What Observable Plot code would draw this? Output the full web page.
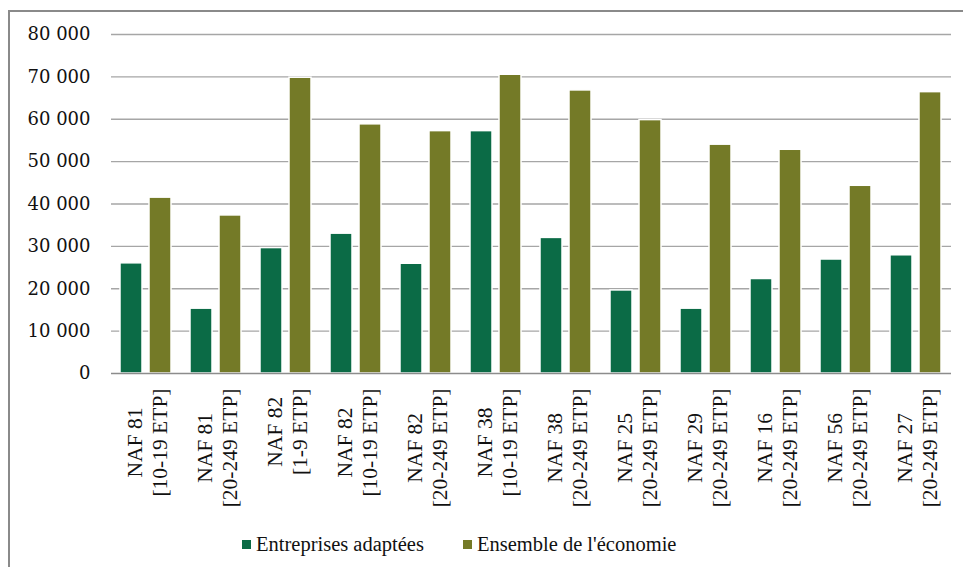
<!DOCTYPE html>
<html><head><meta charset="utf-8">
<script src="https://cdn.jsdelivr.net/npm/d3@7"></script>
<script src="https://cdn.jsdelivr.net/npm/@observablehq/plot@0.6"></script>
<style>
body{margin:0;background:#fff;}
#wrap{position:relative;width:963px;height:567px;overflow:hidden;background:#fff;}
#frame{position:absolute;left:8px;top:10px;width:1000px;height:600px;border:2px solid #8a8a8a;box-sizing:border-box;}
#chart{position:absolute;left:0;top:0;}
#legend{position:absolute;left:242px;top:528px;}
.lg-swatch{margin-right:39px !important;}
.lg-swatch > svg{margin-right:5px !important;}
</style></head>
<body><div id="wrap"><div id="frame"></div><div id="chart"></div><div id="legend"></div></div>
<script>
const naf = ["NAF 81","NAF 81","NAF 82","NAF 82","NAF 82","NAF 38","NAF 38","NAF 25","NAF 29","NAF 16","NAF 56","NAF 27"];
const tranches = ["[10-19 ETP]","[20-249 ETP]","[1-9 ETP]","[10-19 ETP]","[20-249 ETP]","[10-19 ETP]","[20-249 ETP]","[20-249 ETP]","[20-249 ETP]","[20-249 ETP]","[20-249 ETP]","[20-249 ETP]"];
const series = ["Entreprises adaptées","Ensemble de l'économie"];
const entreprisesAdaptees = [26000,15300,29600,33000,25900,57200,32000,19600,15300,22300,26900,27900];
const ensembleEconomie = [41500,37300,69800,58800,57200,70500,66800,59800,54000,52800,44300,66400];
const yTicks = [0,10000,20000,30000,40000,50000,60000,70000,80000];
const colors = ["#0b6b46","#747a27"];

const categories = naf.map((n,i)=> n + "\n" + tranches[i]);
const data = categories.flatMap((c,i)=>[
  {cat:c, serie:series[0], value:entreprisesAdaptees[i]},
  {cat:c, serie:series[1], value:ensembleEconomie[i]}
]);

const fmt = d3.formatLocale({decimal:",", thousands:"\u00a0", grouping:[3], currency:["",""]}).format(",.0f");

const labelFont = "21.5px 'Liberation Serif'";
const ctx = document.createElement("canvas").getContext("2d");
ctx.font = labelFont;
const halfW = categories.map(c => d3.max(c.split("\n"), l => ctx.measureText(l).width)/2);

const plot = Plot.plot({
  width:963, height:515,
  marginTop:34, marginBottom:142, marginLeft:108, marginRight:10,
  style:{fontFamily:"'DejaVu Serif', serif", fontSize:"18px", color:"#111", background:"transparent", overflow:"visible"},
  fx:{domain:categories, padding:0, axis:null, label:null},
  x:{domain:series, paddingInner:0.236, paddingOuter:0.32, axis:null},
  y:{domain:[0,80000], axis:null},
  color:{domain:series, range:colors},
  marks:[
    Plot.gridY(yTicks.slice(1), {stroke:"#a6a6a6", strokeOpacity:1, strokeWidth:1.3}),
    Plot.barY(data, {fx:"cat", x:"serie", y:"value", fill:"serie", stroke:"#fff", strokeWidth:1.5}),
    Plot.ruleY([0], {stroke:"#8c8c8c", strokeWidth:1.5}),
    Plot.axisY(yTicks, {tickSize:0, tickPadding:21, tickFormat:fmt, fontSize:18, fill:"#111", label:null}),
    ...categories.map((c,i)=> Plot.text([c], {
      fx: d=>d, text: d=>d, frameAnchor:"bottom", rotate:-90,
      textAnchor:"middle", lineAnchor:"middle", lineHeight:1.15,
      dy: 15 + halfW[i], fontFamily:"'Liberation Serif', serif", fontSize:21.5, fill:"#111"
    }))
  ]
});
document.getElementById("chart").appendChild(plot);

const leg = Plot.legend({
  color:{domain:series, range:colors},
  legend:"swatches", swatchSize:9, className:"lg",
  style:{fontFamily:"'Liberation Serif', serif", fontSize:"20.5px", color:"#111"}
});
document.getElementById("legend").appendChild(leg);
</script>
</body></html>
